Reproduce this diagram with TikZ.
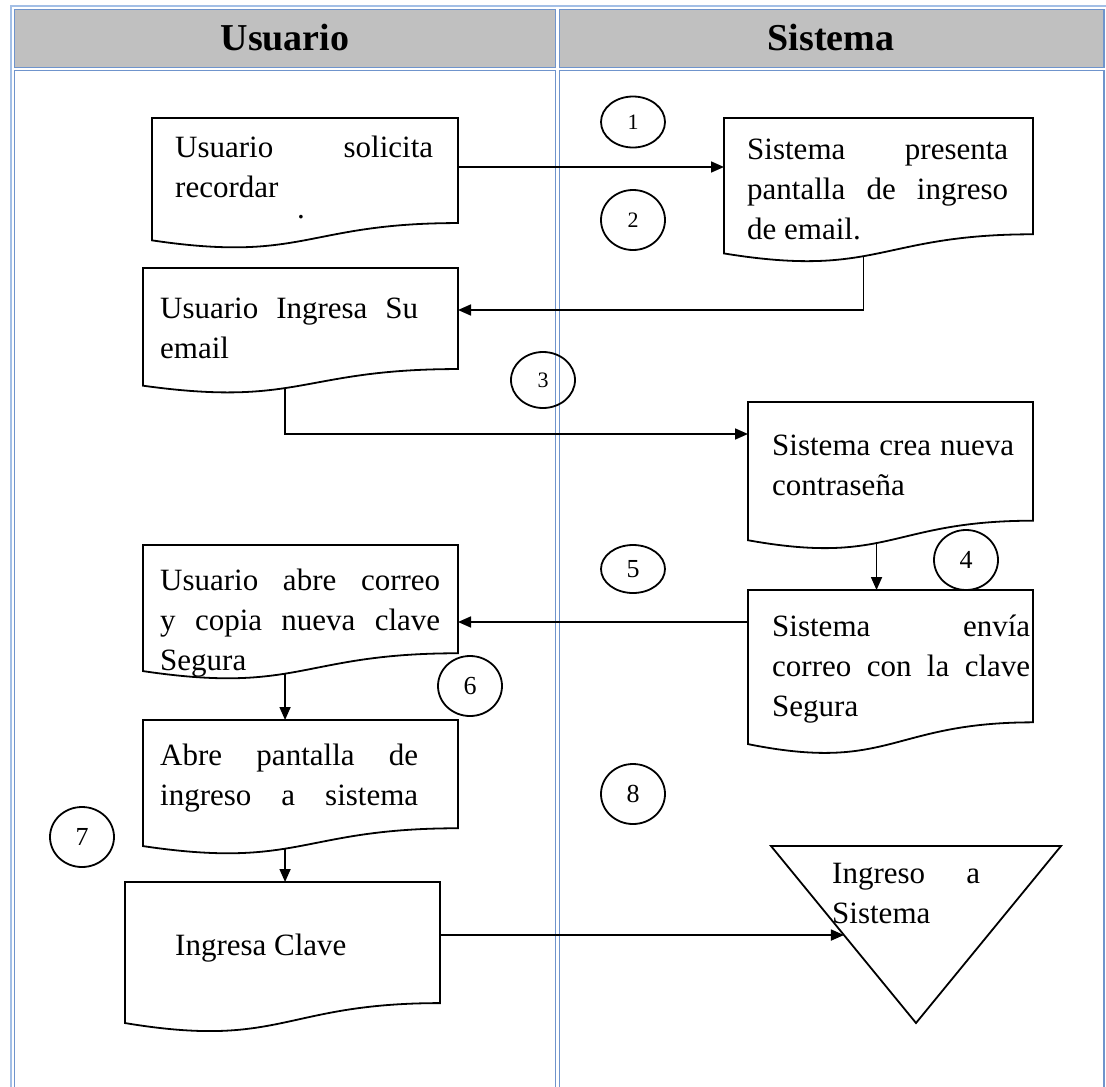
\documentclass[tikz,border=0pt]{standalone}
\usepackage{fontspec}
\setmainfont{Liberation Serif}
\usetikzlibrary{calc,arrows.meta,shapes.geometric}
\definecolor{frameout}{HTML}{A3BFE6}
\definecolor{framein}{HTML}{6F94CC}
\definecolor{headgrey}{HTML}{C0C0C0}
\tikzset{
  cellbox/.style={draw=framein, line width=1.6pt},
  headbox/.style={cellbox, fill=headgrey},
  doc/.style={draw=black, line width=1.8pt, fill=white},
  docnode/.style={draw=none, inner sep=0pt, outer sep=0pt, rectangle, anchor=north west},
  txt/.style={font=\fontsize{31}{40}\selectfont, inner sep=0pt, anchor=base west},
  headtxt/.style={font=\fontsize{38}{42}\selectfont\bfseries, inner sep=0pt},
  arr/.style={line width=1.7pt, -{Triangle[length=13pt,width=11pt]}},
  numc/.style={draw=black, line width=1.8pt, ellipse, inner sep=0pt, minimum width=64pt, minimum height=60pt, font=\fontsize{26}{30}\selectfont},
  numsmall/.style={numc, font=\fontsize{22}{26}\selectfont},
  tri/.style={draw=black, line width=1.8pt}
}
\newcommand\docpath[1]{%
  \draw[doc] (#1.north west) -- (#1.north east) -- ($(#1.north east)!0.802!(#1.south east)$)
    .. controls ($(#1.north)!0.802!(#1.south)$) and ($(#1.north)!1.1075!(#1.south)$) ..
    coordinate[pos=0.565] (#1-b) ($(#1.north west)!0.934!(#1.south west)$) -- cycle;}
\begin{document}
\begin{tikzpicture}[x=1pt,y=-1pt]
\useasboundingbox (0,0) rectangle (1106,1087);
\fill[white] (0,0) rectangle (1106,1087);
% table frame
\draw[frameout, line width=1.4pt] (11,6) rectangle (1112,1100);
\draw[headbox] (14.5,9.5) rectangle (555.5,67.5);
\draw[headbox] (559.5,9.5) rectangle (1104,67.5);
\draw[cellbox] (14.5,70.5) rectangle (555.5,1100);
\draw[cellbox] (559.5,70.5) rectangle (1104,1100);
\node[headtxt] (hu) at (285,38) {Usuario};
\node[headtxt] (hs) at (831,38) {Sistema};

% document shapes
\node[docnode, minimum width=306pt, minimum height=131pt] (d1) at (152,118) {};
\node[docnode, minimum width=309pt, minimum height=145pt] (d2) at (724,118) {};
\node[docnode, minimum width=315pt, minimum height=126pt] (d3) at (143,268) {};
\node[docnode, minimum width=285pt, minimum height=148pt] (d4) at (748,402) {};
\node[docnode, minimum width=285pt, minimum height=165pt] (d5) at (748,590) {};
\node[docnode, minimum width=315pt, minimum height=135pt] (d6) at (143,545) {};
\node[docnode, minimum width=315pt, minimum height=135pt] (d7) at (143,720) {};
\node[docnode, minimum width=315pt, minimum height=151pt] (d8) at (125,882) {};
\docpath{d1}\docpath{d2}\docpath{d3}\docpath{d4}
\docpath{d5}\docpath{d6}\docpath{d7}\docpath{d8}

% texts
\node[txt] (t1) at (175,157) {\parbox[t]{258pt}{\makebox[258pt][s]{Usuario solicita}\\recordar}};
\node[txt] (dot) at (297,218) {.};
\node[txt] (t2) at (747,159) {\parbox[t]{261pt}{\makebox[261pt][s]{Sistema presenta}\\\makebox[261pt][s]{pantalla de ingreso}\\de email.}};
\node[txt] (t3) at (160,318) {\parbox[t]{258pt}{\makebox[258pt][s]{Usuario Ingresa Su}\\email}};
\node[txt] (t4) at (772,455) {\parbox[t]{242pt}{\makebox[242pt][s]{Sistema crea nueva}\\contraseña}};
\node[txt] (t5) at (772,636) {\parbox[t]{258pt}{\makebox[258pt][s]{Sistema envía}\\\makebox[258pt][s]{correo con la clave}\\Segura}};
\node[txt] (t6) at (160,590) {\parbox[t]{280pt}{\makebox[280pt][s]{Usuario abre correo}\\\makebox[280pt][s]{y copia nueva clave}\\Segura}};
\node[txt] (t7) at (160,765) {\parbox[t]{258pt}{\makebox[258pt][s]{Abre pantalla de}\\\makebox[258pt][s]{ingreso a sistema}}};
\node[txt] (t8) at (175,955) {Ingresa Clave};

% merge triangle
\coordinate (tl) at (771,846);
\coordinate (tr) at (1061,846);
\coordinate (tb) at (916,1023);
\draw[tri] (tl) -- (tr) -- (tb) -- cycle;
\node[txt] (t9) at (832,883) {\parbox[t]{148pt}{\makebox[148pt][s]{Ingreso a}\\Sistema}};

% numbered circles
\node[numsmall, minimum height=51pt] (c1) at (633,122) {1};
\node[numsmall] (c2) at (633,220) {2};
\node[numsmall, minimum height=56pt] (c3) at (543,380) {3};
\node[numc] (c4) at (966,560) {4};
\node[numc, minimum height=48pt] (c5) at (633,569) {5};
\node[numc] (c6) at (470,686) {6};
\node[numc] (c7) at (82,837) {7};
\node[numc] (c8) at (633,794) {8};

% connectors
\coordinate (r1) at (0,167);
\coordinate (r2) at (0,310);
\coordinate (r3) at (0,434);
\coordinate (r5) at (0,622);
\coordinate (r8) at (0,935);
\coordinate (hit) at ($(tl)!0.503!(tb)$);
\draw[arr] (d1.east |- r1) -- (d2.west |- r1);
\draw[arr] (d2-b) -- (d2-b |- r2) -- (d3.east |- r2);
\draw[arr] (d3-b) -- (d3-b |- r3) -- (d4.west |- r3);
\draw[arr] (d4-b) -- (d4-b |- d5.north);
\draw[arr] (d5.west |- r5) -- (d6.east |- r5);
\draw[arr] (d6-b) -- (d6-b |- d7.north);
\draw[arr] (d7-b) -- (d7-b |- d8.north);
\draw[arr] (d8.east |- r8) -- (hit);
\end{tikzpicture}
\end{document}
